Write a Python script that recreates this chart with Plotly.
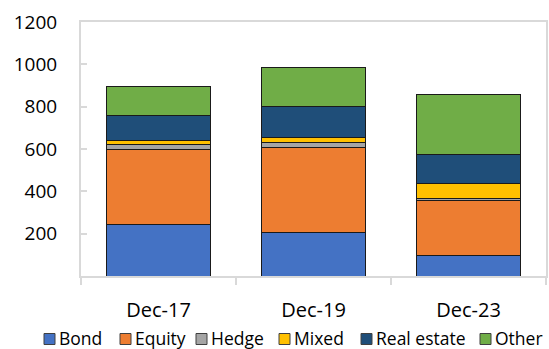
import plotly.graph_objects as go

categories = ["Dec-17", "Dec-19", "Dec-23"]
bond = [241, 207, 98]
equity = [356, 400, 261]
hedge = [26, 25, 8]
mixed = [15, 24, 69]
real_estate = [120, 143, 137]
other = [137, 188, 283]

series_names = ["Bond", "Equity", "Hedge", "Mixed", "Real estate", "Other"]
series_values = [bond, equity, hedge, mixed, real_estate, other]
series_colors = ["#4472C4", "#ED7D31", "#A5A5A5", "#FFC000", "#1F4E79", "#70AD47"]

ytick_vals = [200, 400, 600, 800, 1000, 1200]

FONT = "Open Sans"
W, H = 549, 349
ML, MR, MT, MB = 81, 3, 22, 73
PW, PH = W - ML - MR, H - MT - MB

def px_x(px):
    return (px - ML) / PW

def px_y(py):
    return (H - MB - py) / PH

fig = go.Figure()
for name, vals, color in zip(series_names, series_values, series_colors):
    fig.add_trace(go.Bar(
        x=categories, y=vals, name=name,
        marker=dict(color=color, line=dict(color="#1a1a1a", width=1)),
        showlegend=False,
    ))

# custom legend (single row like the original)
legend_square_left = [44, 120, 196, 279, 361, 480]
legend_y = 338.5
sq = 11
for name, color, left in zip(series_names, series_colors, legend_square_left):
    fig.add_shape(
        type="rect", xref="paper", yref="paper",
        x0=px_x(left), x1=px_x(left + sq),
        y0=px_y(legend_y + sq / 2 + 0.5), y1=px_y(legend_y - sq / 2 + 0.5),
        fillcolor=color, line=dict(color="#404040", width=1),
    )
    fig.add_annotation(
        xref="paper", yref="paper", x=px_x(left + sq + 3), y=px_y(legend_y - 1),
        xanchor="left", yanchor="middle", text=name, showarrow=False,
        borderpad=0,
        font=dict(family=FONT, size=17.5, color="#000000"),
    )

fig.update_layout(
    barmode="stack",
    bargap=0.33,
    width=W, height=H,
    margin=dict(l=ML, r=MR, t=MT, b=MB, autoexpand=False),
    paper_bgcolor="white",
    plot_bgcolor="white",
    font=dict(family=FONT, size=19, color="#000000"),
    showlegend=False,
)
fig.update_xaxes(
    showline=True, linecolor="#D9D9D9", linewidth=2, mirror=True,
    ticks="outside", tickson="boundaries", ticklen=7, tickcolor="#D9D9D9", tickwidth=2,
    tickfont=dict(family=FONT, size=20), ticklabelstandoff=15,
    showgrid=False, automargin=False,
)
fig.update_yaxes(
    range=[0, 1200], tickvals=ytick_vals,
    showline=True, linecolor="#D9D9D9", linewidth=2, mirror=True,
    ticks="inside", ticklen=6, tickcolor="#D9D9D9", tickwidth=2,
    tickfont=dict(family=FONT, size=19), ticklabelstandoff=18,
    showgrid=False, zeroline=False, automargin=False,
)

fig.write_html(
    "out.html",
    config={"displayModeBar": False},
    post_script="document.body.style.margin='0';document.body.style.overflow='hidden';",
)
